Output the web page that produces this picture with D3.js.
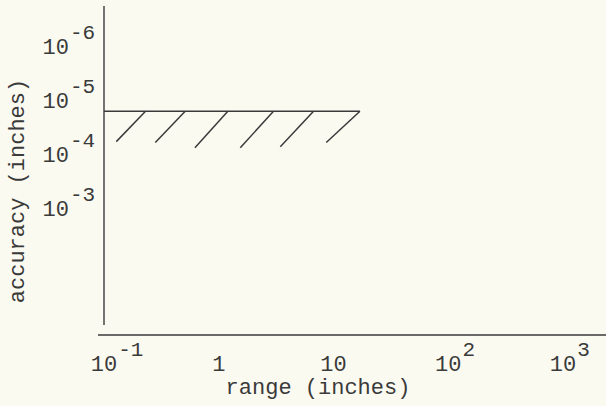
<!DOCTYPE html>
<html><head><meta charset="utf-8">
<script src="https://cdn.jsdelivr.net/npm/d3@7"></script>
<style>
html,body{margin:0;padding:0;background:#fafaf1;}
svg{display:block;}
text{font-family:"Liberation Mono","Courier New",monospace;fill:#3a3a3a;}
</style></head><body>
<svg id="c" width="606" height="406"></svg>
<script>
// ---- data ----
const xTickValues = [0.1, 1, 10, 100, 1000];
const xTickBase   = ["10", "1", "10", "10", "10"];
const xTickExp    = ["-1", "", "", "2", "3"];
const yTickValues = [1e-6, 1e-5, 1e-4, 1e-3];
const yTickBase   = ["10", "10", "10", "10"];
const yTickExp    = ["-6", "-5", "-4", "-3"];
const limitRange  = [0.1, 17];        // range (inches) extent of the boundary line
const limitAccuracy = 2e-5;           // accuracy (inches) of the boundary line
const hatchTopRange    = [0.23, 0.51, 1.2, 3.0, 6.7, 17];
const hatchBottomRange = [0.128, 0.28, 0.62, 1.54, 3.44, 8.65];
const hatchBottomAcc   = [7.3e-5, 7.6e-5, 9.5e-5, 9.5e-5, 9.1e-5, 7.6e-5];
const xTitle = "range (inches)";
const yTitle = "accuracy (inches)";

const svg = d3.select("#c");
const ink = "#3a3a3a";

const x = d3.scaleLog().domain([0.1, 1000]).range([104, 563]);
const y = d3.scaleLog().domain([1e-6, 1e-3]).range([41, 203]);

// axes lines
svg.append("line").attr("x1", 104).attr("x2", 104).attr("y1", 6).attr("y2", 325)
  .attr("stroke", ink).attr("stroke-width", 1.4);
svg.append("line").attr("x1", 98).attr("x2", 606).attr("y1", 335).attr("y2", 335)
  .attr("stroke", ink).attr("stroke-width", 1.4);

// x tick labels
const xg = svg.append("g");
xTickValues.forEach((v, i) => {
  const cx = x(v);
  const t = xg.append("text").attr("x", cx).attr("y", 371)
    .attr("text-anchor", "middle").attr("font-size", 22).text(xTickBase[i]);
  if (xTickExp[i]) {
    const w = t.node().getComputedTextLength();
    xg.append("text").attr("x", cx + w / 2 + 1).attr("y", 356)
      .attr("font-size", 21).text(xTickExp[i]);
  }
});

// y tick labels
const yg = svg.append("g");
yTickValues.forEach((v, i) => {
  const cy = y(v);
  const t = yg.append("text").attr("x", 69).attr("y", cy + 13)
    .attr("text-anchor", "end").attr("font-size", 22).text(yTickBase[i]);
  yg.append("text").attr("x", 70).attr("y", cy - 2.5)
    .attr("font-size", 21).text(yTickExp[i]);
});

// titles
svg.append("text").attr("x", 318).attr("y", 394).attr("text-anchor", "middle")
  .attr("font-size", 22).text(xTitle);
svg.append("text").attr("transform", "translate(24,191) rotate(-90)")
  .attr("text-anchor", "middle").attr("font-size", 22).text(yTitle);

// boundary line
svg.append("line")
  .attr("x1", x(limitRange[0])).attr("x2", x(limitRange[1]))
  .attr("y1", y(limitAccuracy)).attr("y2", y(limitAccuracy))
  .attr("stroke", ink).attr("stroke-width", 1.6);

// hatching
svg.append("g").selectAll("line").data(hatchTopRange).join("line")
  .attr("x1", (d, i) => x(hatchBottomRange[i]))
  .attr("y1", (d, i) => y(hatchBottomAcc[i]))
  .attr("x2", d => x(d))
  .attr("y2", y(limitAccuracy))
  .attr("stroke", ink).attr("stroke-width", 1.5);
</script>
</body></html>
